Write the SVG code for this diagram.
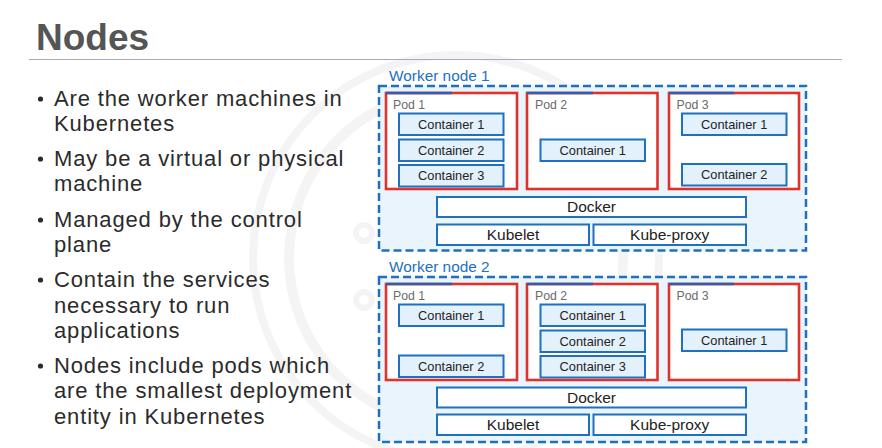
<svg xmlns="http://www.w3.org/2000/svg" width="882" height="448" viewBox="0 0 882 448">
<style>
.title{font-family:"Liberation Sans",Arial,sans-serif;font-weight:bold;font-size:37px;fill:#555}
.bul{font-family:"Liberation Sans",Arial,sans-serif;font-size:22px;letter-spacing:0.85px;fill:#2b2b2b}
.wn{font-family:"Liberation Sans",Arial,sans-serif;font-size:15.4px;fill:#1f70c1}
.node{fill:#eaf4fc;stroke:#1f70c1;stroke-width:2.5;stroke-dasharray:8 4}
.pod{fill:#fff;stroke:#e0322c;stroke-width:2.6}
.podtop{stroke:#2f5eaa;stroke-width:2.6}
.podl{font-family:"Liberation Sans",Arial,sans-serif;font-size:12.3px;fill:#6b6b6b}
.ct{fill:#e3f1fc;stroke:#1f70c1;stroke-width:2}
.ctt{font-family:"Liberation Sans",Arial,sans-serif;font-size:12.8px;fill:#222;text-anchor:middle}
.svc{fill:#fff;stroke:#1f70c1;stroke-width:2}
.svct{font-family:"Liberation Sans",Arial,sans-serif;font-size:15.5px;fill:#222;text-anchor:middle}
.wm{fill:none;stroke:#f4f4f4}
</style>
<rect width="882" height="448" fill="#fff"/>
<g id="watermark">
<circle class="wm" cx="456" cy="258" r="203" stroke-width="8"/>
<circle class="wm" cx="456" cy="258" r="167" stroke-width="10"/>
<circle class="wm" cx="364" cy="233" r="8" stroke-width="6"/>
<circle class="wm" cx="364" cy="300" r="8" stroke-width="6"/>
</g>
<g id="title">
<text class="title" x="36" y="50">Nodes</text>
<line x1="29" y1="59.5" x2="842" y2="59.5" stroke="#aaa6c8" stroke-width="1"/>
</g>
<g id="bullets">
<circle cx="40.5" cy="99" r="2.6" fill="#2b2b2b"/>
<circle cx="40.5" cy="159" r="2.6" fill="#2b2b2b"/>
<circle cx="40.5" cy="220" r="2.6" fill="#2b2b2b"/>
<circle cx="40.5" cy="280" r="2.6" fill="#2b2b2b"/>
<circle cx="40.5" cy="366" r="2.6" fill="#2b2b2b"/>
<text class="bul" x="54" y="106">Are the worker machines in</text>
<text class="bul" x="54" y="131">Kubernetes</text>
<text class="bul" x="54" y="166">May be a virtual or physical</text>
<text class="bul" x="54" y="191">machine</text>
<text class="bul" x="54" y="227">Managed by the control</text>
<text class="bul" x="54" y="252">plane</text>
<text class="bul" x="54" y="287">Contain the services</text>
<text class="bul" x="54" y="313">necessary to run</text>
<text class="bul" x="54" y="338">applications</text>
<text class="bul" x="54" y="373">Nodes include pods which</text>
<text class="bul" x="54" y="398">are the smallest deployment</text>
<text class="bul" x="54" y="424">entity in Kubernetes</text>
</g>
<g id="connectors"/>
<g id="worker-node-1">
<text class="wn" x="389" y="81">Worker node 1</text>
<rect class="node" x="379" y="86" width="427" height="164.5"/>
<g id="wn1-pod1">
<rect class="pod" x="386" y="93" width="131" height="96"/>
<line class="podtop" x1="386" y1="93" x2="452" y2="93"/>
<text class="podl" x="393" y="108.5">Pod 1</text>
<rect class="ct" x="399" y="113.5" width="104.5" height="21.5"/><text class="ctt" x="451.2" y="128.8">Container 1</text>
<rect class="ct" x="399" y="139.5" width="104.5" height="21.5"/><text class="ctt" x="451.2" y="154.8">Container 2</text>
<rect class="ct" x="399" y="165" width="104.5" height="21.5"/><text class="ctt" x="451.2" y="180.3">Container 3</text>
</g>
<g id="wn1-pod2">
<rect class="pod" x="527" y="93" width="130.5" height="96"/>
<line class="podtop" x1="527" y1="93" x2="593" y2="93"/>
<text class="podl" x="535" y="108.5">Pod 2</text>
<rect class="ct" x="540.5" y="139.5" width="104.5" height="21.5"/><text class="ctt" x="592.7" y="154.8">Container 1</text>
</g>
<g id="wn1-pod3">
<rect class="pod" x="669" y="93" width="130" height="96"/>
<line class="podtop" x1="669" y1="93" x2="734" y2="93"/>
<text class="podl" x="676.5" y="108.5">Pod 3</text>
<rect class="ct" x="682" y="113.5" width="104.5" height="21.5"/><text class="ctt" x="734.2" y="128.8">Container 1</text>
<rect class="ct" x="682" y="164" width="104.5" height="21.5"/><text class="ctt" x="734.2" y="179.3">Container 2</text>
</g>
<g id="wn1-docker"><rect class="svc" x="437" y="197" width="309" height="20"/><text class="svct" x="591.5" y="212.3">Docker</text></g>
<g id="wn1-kubelet"><rect class="svc" x="437" y="224.5" width="152" height="20.5"/><text class="svct" x="513" y="240">Kubelet</text></g>
<g id="wn1-kubeproxy"><rect class="svc" x="593.5" y="224.5" width="152.5" height="20.5"/><text class="svct" x="669.7" y="240">Kube-proxy</text></g>
</g>
<g id="worker-node-2">
<text class="wn" x="389" y="272">Worker node 2</text>
<rect class="node" x="379" y="277" width="427" height="165"/>
<g id="wn2-pod1">
<rect class="pod" x="386" y="284" width="131" height="96"/>
<line class="podtop" x1="386" y1="284" x2="452" y2="284"/>
<text class="podl" x="393" y="299.5">Pod 1</text>
<rect class="ct" x="399" y="304.5" width="104.5" height="21.5" stroke-width="2.6"/><text class="ctt" x="451.2" y="319.8">Container 1</text>
<rect class="ct" x="399" y="355.5" width="104.5" height="21.5" stroke-width="2.6"/><text class="ctt" x="451.2" y="370.8">Container 2</text>
</g>
<g id="wn2-pod2">
<rect class="pod" x="527" y="284" width="130.5" height="96"/>
<line class="podtop" x1="527" y1="284" x2="593" y2="284"/>
<text class="podl" x="535" y="299.5">Pod 2</text>
<rect class="ct" x="540.5" y="304.5" width="104.5" height="21.5" stroke-width="2.6"/><text class="ctt" x="592.7" y="319.8">Container 1</text>
<rect class="ct" x="540.5" y="330.5" width="104.5" height="21.5" stroke-width="2.6"/><text class="ctt" x="592.7" y="345.8">Container 2</text>
<rect class="ct" x="540.5" y="356" width="104.5" height="21.5" stroke-width="2.6"/><text class="ctt" x="592.7" y="371.3">Container 3</text>
</g>
<g id="wn2-pod3">
<rect class="pod" x="669" y="284" width="130" height="96"/>
<line class="podtop" x1="669" y1="284" x2="734" y2="284"/>
<text class="podl" x="676.5" y="299.5">Pod 3</text>
<rect class="ct" x="682" y="329.5" width="104.5" height="21.5" stroke-width="2.6"/><text class="ctt" x="734.2" y="344.8">Container 1</text>
</g>
<g id="wn2-docker"><rect class="svc" x="437" y="387.5" width="309" height="20" stroke-width="2.6"/><text class="svct" x="591.5" y="402.8">Docker</text></g>
<g id="wn2-kubelet"><rect class="svc" x="437" y="414.5" width="152" height="20.5" stroke-width="2.6"/><text class="svct" x="513" y="430">Kubelet</text></g>
<g id="wn2-kubeproxy"><rect class="svc" x="593.5" y="414.5" width="152.5" height="20.5" stroke-width="2.6"/><text class="svct" x="669.7" y="430">Kube-proxy</text></g>
</g>
</svg>
